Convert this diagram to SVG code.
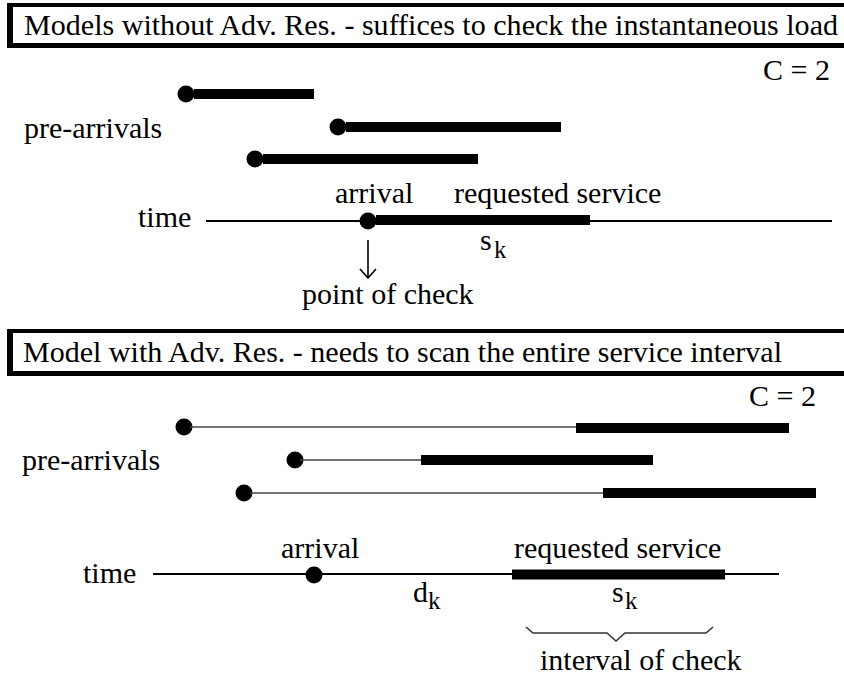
<svg xmlns="http://www.w3.org/2000/svg" width="844" height="681" viewBox="0 0 844 681">
<rect width="844" height="681" fill="#fff"/>
<g id="title-top-box">
<rect x="7" y="3" width="900" height="45" fill="#000"/>
<rect x="13" y="7" width="900" height="36" fill="#fff"/>
</g>
<g id="top-bars">
<g id="top-pre1" stroke="#000" stroke-width="10"><circle cx="186" cy="94" r="8.5" stroke="none"/><line x1="194" y1="94" x2="314" y2="94"/></g>
<g id="top-pre2" stroke="#000" stroke-width="10"><circle cx="338" cy="127" r="8.5" stroke="none"/><line x1="346" y1="127" x2="561" y2="127"/></g>
<g id="top-pre3" stroke="#000" stroke-width="10"><circle cx="255" cy="159" r="8.5" stroke="none"/><line x1="263" y1="159" x2="478" y2="159"/></g>
<line x1="206" y1="221" x2="832" y2="221" stroke="#000" stroke-width="1.8"/>
<g id="top-arrival" stroke="#000" stroke-width="10"><circle cx="368" cy="221" r="8.5" stroke="none"/><line x1="376" y1="220" x2="590" y2="220"/></g>
</g>
<g id="connectors" fill="none" stroke="#000" stroke-width="1.6">
<line x1="368" y1="240" x2="368" y2="278"/>
<polyline points="360,269 368,278 376,269"/>
</g>
<g id="title-bottom-box">
<rect x="7" y="329" width="900" height="47" fill="#000"/>
<rect x="13" y="333" width="900" height="38" fill="#fff"/>
</g>
<g id="bottom-bars">
<g id="bot-pre1"><circle cx="184" cy="427" r="8.5"/><line x1="190" y1="427" x2="577" y2="427" stroke="#444" stroke-width="1.6"/><line x1="576" y1="428" x2="789" y2="428" stroke="#000" stroke-width="10"/></g>
<g id="bot-pre2"><circle cx="295" cy="460" r="8.5"/><line x1="300" y1="460" x2="422" y2="460" stroke="#444" stroke-width="1.6"/><line x1="421" y1="460" x2="653" y2="460" stroke="#000" stroke-width="10"/></g>
<g id="bot-pre3"><circle cx="244" cy="493" r="8.5"/><line x1="250" y1="493" x2="604" y2="493" stroke="#444" stroke-width="1.6"/><line x1="603" y1="493" x2="816" y2="493" stroke="#000" stroke-width="10"/></g>
<line x1="153" y1="574" x2="779" y2="574" stroke="#000" stroke-width="1.8"/>
<g id="bot-arrival"><circle cx="314" cy="575" r="8.5"/></g>
<line x1="512" y1="574.5" x2="725" y2="574.5" stroke="#000" stroke-width="10"/>
<polyline id="brace" points="526,627 533,633 607,633 616,641 625,633 706,633 713,627" fill="none" stroke="#333" stroke-width="1.6"/>
</g>
<text x="24" y="35" font-family="Liberation Serif" font-size="30" textLength="814" lengthAdjust="spacingAndGlyphs">Models without Adv. Res. - suffices to check the instantaneous load</text>
<text x="763" y="80" font-family="Liberation Serif" font-size="30">C = 2</text>
<text x="24" y="138" font-family="Liberation Serif" font-size="30">pre-arrivals</text>
<text x="138" y="227" font-family="Liberation Serif" font-size="30">time</text>
<text x="335" y="203" font-family="Liberation Serif" font-size="30">arrival</text>
<text x="454" y="203" font-family="Liberation Serif" font-size="30">requested service</text>
<text x="480" y="250" font-family="Liberation Serif" font-size="30">s</text>
<text x="494" y="258" font-family="Liberation Serif" font-size="25">k</text>
<text x="302" y="304" font-family="Liberation Serif" font-size="30">point of check</text>
<text x="23" y="362" font-family="Liberation Serif" font-size="30" textLength="759" lengthAdjust="spacingAndGlyphs">Model with Adv. Res. - needs to scan the entire service interval</text>
<text x="749" y="406" font-family="Liberation Serif" font-size="30">C = 2</text>
<text x="22" y="470" font-family="Liberation Serif" font-size="30">pre-arrivals</text>
<text x="83" y="583" font-family="Liberation Serif" font-size="30">time</text>
<text x="281" y="558" font-family="Liberation Serif" font-size="30">arrival</text>
<text x="514" y="558" font-family="Liberation Serif" font-size="30">requested service</text>
<text x="413" y="602" font-family="Liberation Serif" font-size="30">d</text>
<text x="428" y="609" font-family="Liberation Serif" font-size="25">k</text>
<text x="612" y="602" font-family="Liberation Serif" font-size="30">s</text>
<text x="625" y="609" font-family="Liberation Serif" font-size="25">k</text>
<text x="540" y="670" font-family="Liberation Serif" font-size="30">interval of check</text>
</svg>
